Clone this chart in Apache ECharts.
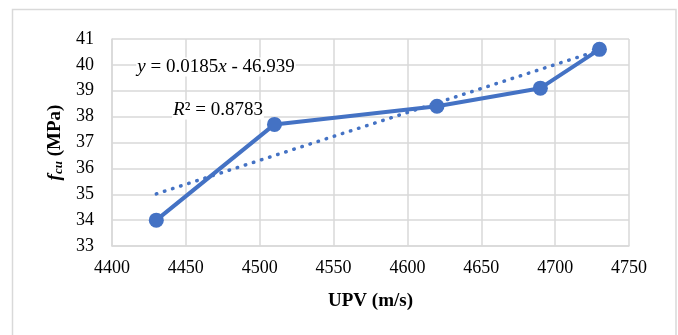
<!DOCTYPE html>
<html>
<head>
<meta charset="utf-8">
<script src="https://cdn.jsdelivr.net/npm/echarts@6/dist/echarts.min.js"></script>
<style>
  html, body { margin: 0; padding: 0; background: #fff; }
  #chart { width: 678px; height: 335px; }
</style>
</head>
<body>
<div id="chart"></div>
<script>
// Ultrasonic pulse velocity vs. compressive strength
const upv = [4430, 4510, 4620, 4690, 4730];          // m/s
const fcu = [34.0, 37.7, 38.4, 39.1, 40.6];          // MPa
const xTicks = [4400, 4750, 50];                     // min, max, step
const yTicks = [33, 41, 1];
// Linear trendline coefficients and fit quality
const slope = 0.0185;
const intercept = -46.939;
const rSquared = '0.8783';

const blue = '#4472C4';
const grid = '#d9d9d9';
const serif = '"Liberation Serif", "Times New Roman", serif';

const points = upv.map((x, i) => [x, fcu[i]]);
const xFirst = upv[0], xLast = upv[upv.length - 1];
const trend = [xFirst, xLast].map(x => [x, slope * x + intercept]);

const chart = echarts.init(document.getElementById('chart'), null, { renderer: 'canvas' });
chart.setOption({
  backgroundColor: '#fff',
  animation: false,
  grid: { left: 112, right: 49, top: 39, bottom: 89 },
  xAxis: {
    type: 'value',
    min: xTicks[0], max: xTicks[1], interval: xTicks[2],
    name: 'UPV (m/s)',
    nameLocation: 'middle',
    nameGap: 46,
    nameTextStyle: { fontFamily: serif, fontWeight: 'bold', fontSize: 19, color: '#000' },
    axisLine: { show: true, lineStyle: { color: grid, width: 1.5 } },
    axisTick: { show: false },
    axisLabel: { fontFamily: serif, fontSize: 18, color: '#000', margin: 13, formatter: v => String(v) },
    splitLine: { show: true, lineStyle: { color: grid, width: 1.5 } }
  },
  yAxis: {
    type: 'value',
    min: yTicks[0], max: yTicks[1], interval: yTicks[2],
    name: '{f|f}{cu|cu}{p| (MPa)}',
    nameLocation: 'middle',
    nameGap: 46,
    nameRotate: 90,
    nameTextStyle: {
      fontFamily: serif, fontWeight: 'bold', fontSize: 19, color: '#000',
      rich: {
        f: { fontFamily: serif, fontWeight: 'bold', fontStyle: 'italic', fontSize: 19, color: '#000' },
        cu: { fontFamily: serif, fontWeight: 'bold', fontStyle: 'italic', fontSize: 13, color: '#000', padding: [8, 0, 0, 0] },
        p: { fontFamily: serif, fontWeight: 'bold', fontSize: 19, color: '#000' }
      }
    },
    axisLine: { show: true, lineStyle: { color: grid, width: 1.5 } },
    axisTick: { show: false },
    axisLabel: { fontFamily: serif, fontSize: 18, color: '#000', margin: 18 },
    splitLine: { show: true, lineStyle: { color: grid, width: 1.5 } }
  },
  series: [
    {
      type: 'line',
      data: points,
      symbol: 'circle',
      symbolSize: 15,
      lineStyle: { color: blue, width: 4 },
      itemStyle: { color: blue },
      z: 2
    },
    {
      type: 'line',
      data: trend,
      symbol: 'none',
      lineStyle: { color: blue, width: 3.5, type: [0.5, 8], cap: 'round' },
      z: 3
    }
  ],
  graphic: [
    {
      type: 'rect',
      shape: { x: 12.5, y: 9.5, width: 663.5, height: 340 },
      style: { fill: 'none', stroke: grid, lineWidth: 1.5 },
      silent: true
    },
    {
      type: 'text',
      x: 216, y: 67, z: 100,
      style: {
        text: '{i|y} = 0.0185{i|x} - 46.939',
        fontFamily: serif, fontSize: 19, fill: '#000',
        align: 'center', verticalAlign: 'middle',
        backgroundColor: '#fff', padding: [0, 1],
        rich: { i: { fontFamily: serif, fontStyle: 'italic', fontSize: 19, color: '#000' } }
      }
    },
    {
      type: 'text',
      x: 218, y: 110, z: 100,
      style: {
        text: '{i|R}² = ' + rSquared,
        fontFamily: serif, fontSize: 19, fill: '#000',
        align: 'center', verticalAlign: 'middle',
        backgroundColor: '#fff', padding: [0, 1],
        rich: { i: { fontFamily: serif, fontStyle: 'italic', fontSize: 19, color: '#000' } }
      }
    }
  ]
});
</script>
</body>
</html>
